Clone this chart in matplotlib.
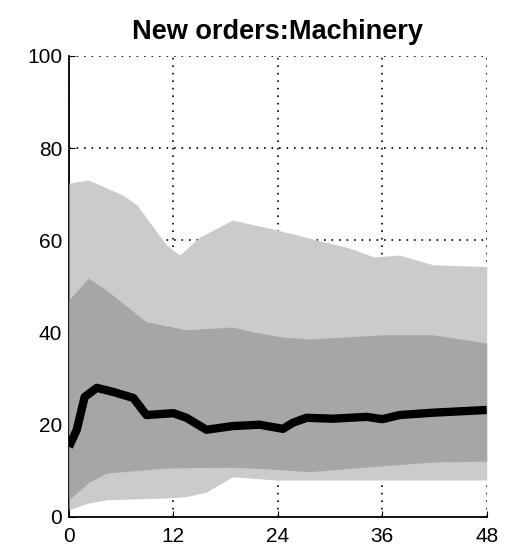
import numpy as np
import matplotlib.pyplot as plt

# horizon (months) and percentile bands
h_outer = [0, 2.2, 6.2, 7.8, 11.2, 12.7, 15, 18.8, 23.8, 28.4, 32.3, 35, 38, 41.8, 48]
outer_hi = [72.4, 73.1, 69.8, 67.7, 59.0, 56.8, 60.7, 64.4, 62.3, 60.1, 58.3, 56.4, 56.8, 54.7, 54.3]

h_outer_lo = [0, 2.2, 4.3, 11.2, 13.5, 15.8, 18.8, 23.8, 26.9, 36, 48]
outer_lo = [1.5, 3.0, 3.7, 4.1, 4.4, 5.4, 8.7, 8.0, 8.0, 8.0, 8.0]

h_inner = [0, 2.2, 4.3, 8.9, 13.5, 18.8, 21.2, 24.6, 27.7, 36, 41.8, 45.7, 48]
inner_hi = [47.1, 51.8, 49.2, 42.3, 40.6, 41.2, 40.1, 39.0, 38.6, 39.5, 39.5, 38.4, 37.7]

h_inner_lo = [0, 2.2, 4.3, 11.2, 18.8, 24.6, 27.7, 34, 41.8, 48]
inner_lo = [3.7, 7.4, 9.5, 10.6, 10.8, 10.2, 9.8, 10.8, 11.9, 12.1]

h_med = [0, 0.9, 1.8, 3.2, 5.1, 7.4, 8.9, 12, 13.5, 15.8, 18.8, 21.9, 24.6, 25.7,
         27.3, 30.3, 34.2, 36, 38, 41.8, 48]
median = [15.2, 18.9, 26.0, 28.0, 27.1, 25.8, 22.1, 22.5, 21.5, 18.9, 19.7, 20.0, 19.1,
          20.4, 21.5, 21.3, 21.7, 21.2, 22.1, 22.6, 23.2]

plt.rcParams['font.family'] = ['Liberation Sans', 'DejaVu Sans']

x = np.linspace(0, 48, 241)
o_hi = np.interp(x, h_outer, outer_hi)
o_lo = np.interp(x, h_outer_lo, outer_lo)
i_hi = np.interp(x, h_inner, inner_hi)
i_lo = np.interp(x, h_inner_lo, inner_lo)

fig = plt.figure(figsize=(5.07, 5.54), dpi=100)
ax = fig.add_axes([0.136, 0.067, 0.824, 0.832])

ax.fill_between(x, o_lo, o_hi, color='#cbcbcb', lw=0, zorder=3)
ax.fill_between(x, i_lo, i_hi, color='#a6a6a6', lw=0, zorder=3)
ax.plot(h_med, median, color='black', lw=6, solid_joinstyle='round',
        solid_capstyle='butt', zorder=4)

ax.set_xlim(0, 48)
ax.set_ylim(0, 100)
ax.set_xticks([0, 12, 24, 36, 48])
ax.set_yticks([0, 20, 40, 60, 80, 100])
ax.grid(True, color='black', linestyle=(0, (1, 3.5)), lw=1.2)
ax.set_axisbelow(True)
for s in ['top', 'right']:
    ax.spines[s].set_visible(False)
for s in ['left', 'bottom']:
    ax.spines[s].set_linewidth(1.3)
    ax.spines[s].set_zorder(2)
ax.tick_params(direction='in', length=4, labelsize=15)
ax.tick_params(axis='x', pad=7)
ax.tick_params(axis='y', pad=5)
ax.set_title('New orders:Machinery', fontsize=19.5, fontweight='bold', pad=12)

fig.savefig('out.png', dpi=100)
